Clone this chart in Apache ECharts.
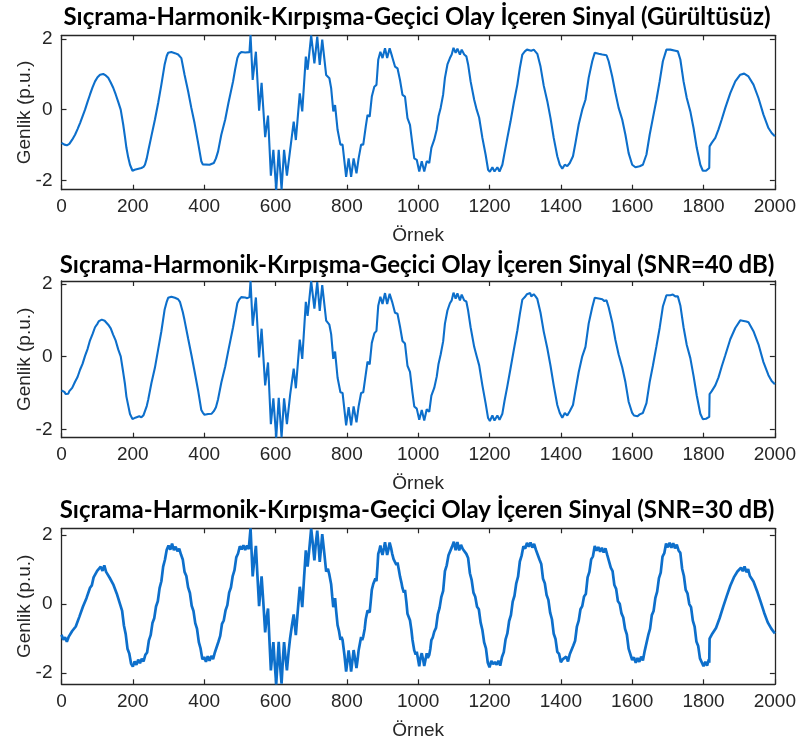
<!DOCTYPE html>
<html>
<head>
<meta charset="utf-8">
<script src="https://cdn.jsdelivr.net/npm/echarts@6/dist/echarts.min.js"></script>
<style>
html,body{margin:0;padding:0;background:#fff;}
#chart{width:799px;height:744px;}
</style>
</head>
<body>
<div id="chart"></div>
<script>
// ---- Data (sample index, amplitude p.u.) ----
const titles = [
  'Sıçrama-Harmonik-Kırpışma-Geçici Olay İçeren Sinyal (Gürültüsüz)',
  'Sıçrama-Harmonik-Kırpışma-Geçici Olay İçeren Sinyal (SNR=40 dB)',
  'Sıçrama-Harmonik-Kırpışma-Geçici Olay İçeren Sinyal (SNR=30 dB)'
];
const xTicks = [0,200,400,600,800,1000,1200,1400,1600,1800,2000];
const yTicks = [-2,0,2];
const xLabel = 'Örnek';
const yLabel = 'Genlik (p.u.)';
const yLimits = [[-2.266,2.105],[-2.231,2.083],[-2.32,2.19]];

const signalClean = [[0,-0.94],[8,-0.99],[15,-1.01],[22,-0.97],[30,-0.85],[38,-0.71],[45,-0.55],[52,-0.38],[59,-0.19],[66,0.0],[73,0.22],[80,0.43],[87,0.63],[94,0.80],[101,0.92],[108,0.99],[117,1.01],[124,0.97],[131,0.90],[138,0.77],[145,0.62],[152,0.43],[159,0.22],[166,0.0],[173,-0.42],[178,-0.78],[182,-1.08],[187,-1.35],[192,-1.56],[199,-1.73],[205,-1.70],[210,-1.67],[224,-1.65],[230,-1.62],[234,-1.56],[239,-1.38],[243,-1.18],[252,-0.75],[262,-0.28],[271,0.19],[280,0.71],[289,1.27],[295,1.52],[299,1.61],[308,1.63],[318,1.60],[327,1.56],[332,1.52],[336,1.46],[340,1.25],[345,0.99],[355,0.52],[364,0.05],[373,-0.38],[383,-0.94],[392,-1.46],[396,-1.55],[401,-1.58],[415,-1.56],[427,-1.51],[433,-1.38],[439,-1.18],[448,-0.71],[459,-0.28],[468,0.19],[481,0.80],[487,1.15],[493,1.46],[498,1.58],[504,1.63],[515,1.62],[527,1.63],[530,2.11],[536,0.84],[545,1.64],[554,-0.03],[561,0.76],[571,-0.78],[579,-0.17],[587,-1.87],[594,-1.14],[602,-2.27],[609,-1.14],[617,-2.26],[624,-1.14],[632,-1.87],[651,-0.34],[657,-0.86],[668,0.46],[675,-0.05],[685,1.50],[690,1.13],[700,2.10],[709,1.31],[717,2.07],[724,1.27],[731,1.98],[742,0.98],[751,0.89],[756,0.61],[762,-0.05],[767,0.13],[774,-0.57],[782,-0.99],[788,-0.99],[798,-1.90],[805,-1.38],[812,-1.90],[819,-1.38],[827,-1.80],[833,-1.38],[840,-0.99],[846,-0.99],[853,-0.48],[858,-0.15],[864,-0.20],[870,0.37],[877,0.65],[883,0.70],[888,1.41],[894,1.64],[900,1.46],[907,1.74],[913,1.46],[920,1.74],[927,1.50],[935,1.22],[942,1.17],[949,0.84],[956,0.42],[963,0.37],[970,-0.24],[977,-0.43],[984,-0.99],[989,-1.38],[996,-1.42],[1003,-1.75],[1010,-1.46],[1017,-1.75],[1024,-1.46],[1031,-1.51],[1037,-1.08],[1045,-0.85],[1052,-0.56],[1057,-0.19],[1063,0.05],[1070,0.43],[1075,0.90],[1082,1.28],[1089,1.46],[1094,1.56],[1099,1.75],[1105,1.61],[1110,1.73],[1117,1.56],[1122,1.70],[1129,1.56],[1135,1.51],[1140,1.28],[1147,0.80],[1157,0.28],[1164,0.0],[1171,-0.23],[1180,-0.80],[1189,-1.27],[1196,-1.70],[1201,-1.76],[1208,-1.63],[1214,-1.75],[1222,-1.63],[1228,-1.75],[1236,-1.56],[1242,-1.23],[1250,-0.80],[1259,-0.33],[1268,0.19],[1278,0.71],[1285,1.18],[1292,1.56],[1299,1.65],[1305,1.70],[1310,1.73],[1317,1.67],[1324,1.70],[1334,1.58],[1343,1.22],[1352,0.68],[1362,0.24],[1371,-0.24],[1380,-0.80],[1390,-1.32],[1397,-1.56],[1404,-1.67],[1411,-1.56],[1418,-1.60],[1425,-1.51],[1434,-1.32],[1441,-0.94],[1450,-0.42],[1460,0.0],[1469,0.28],[1478,0.90],[1488,1.37],[1495,1.61],[1506,1.58],[1516,1.56],[1528,1.54],[1534,1.37],[1544,0.94],[1553,0.47],[1562,0.05],[1572,-0.28],[1581,-0.71],[1590,-1.23],[1600,-1.56],[1609,-1.63],[1621,-1.60],[1630,-1.56],[1640,-1.27],[1649,-0.71],[1658,-0.24],[1668,0.28],[1677,0.80],[1686,1.37],[1696,1.70],[1707,1.70],[1721,1.67],[1728,1.65],[1735,1.42],[1744,0.80],[1753,0.33],[1763,-0.05],[1772,-0.52],[1781,-1.08],[1791,-1.56],[1798,-1.73],[1807,-1.73],[1816,-1.65],[1817,-1.04],[1823,-0.94],[1833,-0.80],[1842,-0.56],[1851,-0.28],[1861,0.05],[1875,0.47],[1889,0.80],[1903,0.99],[1914,1.02],[1926,0.94],[1940,0.71],[1954,0.33],[1968,-0.14],[1982,-0.52],[1991,-0.66],[2000,-0.75]];

const signal40dB = [[0,-0.93],[4,-0.96],[8,-0.97],[12,-1.03],[15,-1.00],[19,-1.02],[22,-0.95],[30,-0.86],[38,-0.69],[45,-0.56],[52,-0.36],[59,-0.20],[66,0.02],[73,0.21],[80,0.45],[87,0.62],[94,0.81],[101,0.91],[105,0.98],[108,0.97],[113,1.02],[117,1.00],[121,0.99],[124,0.98],[131,0.88],[138,0.78],[145,0.60],[152,0.44],[159,0.20],[166,0.01],[173,-0.43],[178,-0.76],[182,-1.10],[187,-1.34],[192,-1.58],[199,-1.72],[203,-1.75],[207,-1.68],[212,-1.70],[218,-1.64],[224,-1.67],[230,-1.61],[234,-1.57],[239,-1.36],[243,-1.19],[252,-0.73],[262,-0.30],[271,0.20],[280,0.70],[289,1.29],[295,1.51],[299,1.62],[304,1.60],[308,1.65],[313,1.61],[318,1.62],[323,1.57],[327,1.58],[332,1.51],[336,1.47],[340,1.23],[345,1.00],[355,0.50],[364,0.06],[373,-0.40],[383,-0.93],[392,-1.47],[396,-1.54],[401,-1.60],[406,-1.56],[411,-1.58],[415,-1.55],[421,-1.57],[427,-1.50],[433,-1.39],[439,-1.17],[448,-0.72],[459,-0.27],[468,0.18],[481,0.81],[487,1.14],[493,1.47],[498,1.57],[504,1.64],[509,1.60],[515,1.63],[521,1.61],[527,1.64],[530,2.08],[536,0.85],[545,1.63],[554,-0.02],[561,0.77],[571,-0.79],[579,-0.16],[587,-1.86],[594,-1.15],[602,-2.23],[609,-1.13],[617,-2.22],[624,-1.15],[632,-1.86],[641,-1.05],[651,-0.33],[657,-0.87],[668,0.47],[675,-0.06],[685,1.51],[690,1.12],[700,2.08],[709,1.32],[717,2.05],[724,1.26],[731,1.97],[742,0.99],[751,0.88],[756,0.62],[762,-0.06],[767,0.14],[774,-0.58],[782,-0.98],[788,-1.00],[798,-1.89],[805,-1.39],[812,-1.89],[819,-1.37],[827,-1.81],[833,-1.37],[840,-1.00],[846,-0.98],[853,-0.49],[858,-0.14],[864,-0.21],[870,0.38],[877,0.64],[883,0.71],[888,1.40],[894,1.65],[900,1.45],[907,1.75],[913,1.45],[920,1.73],[927,1.51],[935,1.21],[942,1.18],[949,0.83],[956,0.43],[963,0.36],[970,-0.25],[977,-0.42],[984,-1.00],[989,-1.37],[996,-1.43],[1003,-1.74],[1010,-1.47],[1017,-1.76],[1024,-1.45],[1031,-1.52],[1037,-1.07],[1045,-0.86],[1052,-0.55],[1057,-0.20],[1063,0.06],[1070,0.42],[1075,0.91],[1082,1.27],[1089,1.47],[1094,1.55],[1099,1.76],[1105,1.60],[1110,1.74],[1117,1.55],[1122,1.71],[1129,1.55],[1135,1.52],[1140,1.27],[1147,0.81],[1157,0.27],[1164,0.01],[1171,-0.24],[1180,-0.79],[1189,-1.28],[1196,-1.69],[1201,-1.77],[1208,-1.62],[1214,-1.76],[1222,-1.62],[1228,-1.74],[1236,-1.57],[1242,-1.22],[1250,-0.81],[1259,-0.32],[1268,0.18],[1278,0.72],[1285,1.17],[1292,1.57],[1299,1.64],[1305,1.72],[1310,1.71],[1314,1.75],[1317,1.66],[1324,1.72],[1329,1.66],[1334,1.59],[1343,1.21],[1352,0.69],[1362,0.23],[1371,-0.25],[1380,-0.79],[1390,-1.33],[1397,-1.55],[1404,-1.68],[1411,-1.55],[1418,-1.62],[1425,-1.50],[1434,-1.33],[1441,-0.93],[1450,-0.43],[1460,0.01],[1469,0.27],[1478,0.91],[1488,1.36],[1495,1.62],[1500,1.58],[1506,1.60],[1511,1.55],[1516,1.58],[1522,1.53],[1528,1.55],[1534,1.36],[1544,0.95],[1553,0.46],[1562,0.06],[1572,-0.29],[1581,-0.70],[1590,-1.24],[1600,-1.55],[1605,-1.62],[1609,-1.61],[1615,-1.64],[1621,-1.59],[1626,-1.61],[1630,-1.55],[1640,-1.28],[1649,-0.70],[1658,-0.25],[1668,0.29],[1677,0.79],[1686,1.38],[1696,1.69],[1701,1.73],[1707,1.69],[1714,1.71],[1721,1.66],[1728,1.66],[1735,1.41],[1744,0.81],[1753,0.32],[1763,-0.04],[1772,-0.53],[1781,-1.07],[1791,-1.57],[1798,-1.72],[1803,-1.75],[1807,-1.71],[1812,-1.74],[1816,-1.66],[1817,-1.03],[1823,-0.95],[1833,-0.79],[1842,-0.57],[1851,-0.27],[1861,0.04],[1875,0.48],[1889,0.79],[1903,1.00],[1909,0.99],[1914,1.03],[1920,0.97],[1926,0.95],[1940,0.70],[1954,0.34],[1968,-0.15],[1982,-0.51],[1991,-0.67],[2000,-0.76]];

const signal30dB = [[0,-0.89],[5,-1.03],[10,-0.96],[15,-1.09],[20,-0.95],[25,-0.97],[30,-0.78],[35,-0.82],[40,-0.65],[45,-0.62],[50,-0.37],[55,-0.33],[60,-0.08],[65,-0.09],[70,0.17],[75,0.21],[80,0.47],[85,0.54],[90,0.77],[95,0.75],[100,0.96],[105,0.92],[110,1.08],[115,0.96],[120,1.12],[125,0.93],[130,0.97],[135,0.76],[140,0.77],[145,0.57],[150,0.54],[155,0.30],[160,0.26],[165,-0.03],[170,-0.20],[175,-0.62],[180,-0.87],[185,-1.29],[190,-1.43],[195,-1.72],[200,-1.81],[205,-1.66],[210,-1.76],[215,-1.61],[220,-1.71],[225,-1.58],[230,-1.66],[235,-1.47],[240,-1.40],[245,-1.05],[250,-0.90],[255,-0.55],[260,-0.41],[265,-0.07],[270,0.08],[275,0.46],[280,0.66],[285,1.08],[290,1.28],[295,1.57],[300,1.69],[305,1.57],[310,1.75],[315,1.56],[320,1.66],[325,1.53],[330,1.60],[335,1.43],[340,1.29],[345,0.93],[350,0.81],[355,0.48],[360,0.32],[365,-0.05],[370,-0.20],[375,-0.55],[380,-0.72],[385,-1.10],[390,-1.29],[395,-1.60],[400,-1.53],[405,-1.67],[410,-1.51],[415,-1.64],[420,-1.50],[425,-1.59],[430,-1.40],[435,-1.37],[440,-1.09],[445,-0.92],[450,-0.57],[455,-0.47],[460,-0.18],[465,-0.03],[470,0.33],[475,0.48],[480,0.81],[485,0.98],[490,1.35],[495,1.46],[500,1.67],[505,1.58],[510,1.70],[515,1.56],[520,1.69],[525,1.59],[530,2.19],[536,0.80],[540,1.22],[545,1.68],[549,0.88],[554,-0.06],[558,0.42],[561,0.80],[566,0.02],[571,-0.82],[575,-0.40],[579,-0.13],[583,-1.05],[587,-1.92],[591,-1.45],[594,-1.10],[598,-1.75],[602,-2.32],[606,-1.60],[609,-1.09],[613,-1.80],[617,-2.30],[621,-1.55],[624,-1.10],[628,-1.55],[632,-1.92],[637,-1.35],[641,-0.98],[646,-0.62],[651,-0.30],[654,-0.60],[657,-0.90],[662,-0.25],[668,0.50],[672,0.20],[675,-0.09],[680,0.75],[685,1.55],[688,1.25],[690,1.08],[695,1.62],[700,2.18],[705,1.70],[709,1.26],[713,1.75],[717,2.12],[721,1.65],[724,1.22],[728,1.65],[731,2.02],[737,1.45],[742,0.94],[747,1.02],[751,0.85],[756,0.57],[759,0.22],[762,-0.09],[767,0.17],[770,-0.20],[774,-0.61],[778,-0.78],[782,-1.03],[785,-0.95],[788,-1.04],[793,-1.45],[798,-1.95],[802,-1.62],[805,-1.34],[809,-1.65],[812,-1.95],[816,-1.60],[819,-1.33],[823,-1.58],[827,-1.85],[830,-1.62],[833,-1.34],[837,-1.12],[840,-0.95],[843,-1.04],[846,-0.94],[850,-0.72],[853,-0.44],[858,-0.19],[861,-0.14],[864,-0.24],[867,0.08],[870,0.41],[874,0.58],[877,0.62],[880,0.74],[883,0.66],[886,1.10],[888,1.45],[891,1.55],[894,1.69],[897,1.52],[900,1.42],[904,1.62],[907,1.79],[910,1.60],[913,1.42],[917,1.60],[920,1.78],[924,1.62],[927,1.46],[931,1.30],[935,1.26],[939,1.13],[942,1.20],[946,0.98],[949,0.80],[953,0.62],[956,0.46],[960,0.33],[963,0.41],[967,0.05],[970,-0.28],[974,-0.30],[977,-0.47],[981,-0.75],[984,-1.03],[987,-1.22],[989,-1.34],[993,-1.46],[996,-1.38],[1000,-1.62],[1003,-1.80],[1006,-1.58],[1010,-1.42],[1014,-1.62],[1017,-1.79],[1021,-1.58],[1024,-1.42],[1027,-1.56],[1031,-1.47],[1034,-1.30],[1037,-1.04],[1041,-0.96],[1045,-0.80],[1050,-0.69],[1055,-0.30],[1060,-0.11],[1065,0.21],[1070,0.38],[1075,0.95],[1080,1.12],[1085,1.41],[1090,1.43],[1095,1.66],[1100,1.80],[1105,1.56],[1110,1.79],[1115,1.55],[1120,1.71],[1125,1.59],[1130,1.61],[1135,1.45],[1140,1.33],[1145,0.89],[1150,0.69],[1155,0.33],[1160,0.21],[1165,-0.08],[1170,-0.15],[1175,-0.53],[1180,-0.75],[1185,-1.11],[1190,-1.28],[1195,-1.69],[1200,-1.83],[1205,-1.64],[1210,-1.74],[1215,-1.68],[1220,-1.75],[1225,-1.64],[1230,-1.78],[1235,-1.53],[1240,-1.39],[1245,-1.02],[1250,-0.85],[1255,-0.49],[1260,-0.32],[1265,0.07],[1270,0.24],[1275,0.60],[1280,0.79],[1285,1.23],[1290,1.40],[1295,1.67],[1300,1.60],[1305,1.77],[1310,1.66],[1315,1.78],[1320,1.63],[1325,1.74],[1330,1.57],[1335,1.58],[1340,1.29],[1345,1.16],[1350,0.73],[1355,0.60],[1360,0.26],[1365,0.12],[1370,-0.25],[1375,-0.44],[1380,-0.86],[1385,-1.01],[1390,-1.38],[1395,-1.44],[1400,-1.68],[1405,-1.60],[1410,-1.64],[1415,-1.52],[1420,-1.66],[1425,-1.45],[1430,-1.46],[1435,-1.20],[1440,-1.06],[1445,-0.65],[1450,-0.48],[1455,-0.15],[1460,-0.06],[1465,0.22],[1470,0.29],[1475,0.77],[1480,0.93],[1485,1.29],[1490,1.38],[1495,1.68],[1500,1.54],[1505,1.65],[1510,1.51],[1515,1.63],[1520,1.49],[1525,1.61],[1530,1.42],[1535,1.39],[1540,1.05],[1545,0.95],[1550,0.55],[1555,0.44],[1560,0.08],[1565,0.01],[1570,-0.27],[1575,-0.39],[1580,-0.72],[1585,-0.88],[1590,-1.29],[1595,-1.34],[1600,-1.62],[1605,-1.54],[1610,-1.70],[1615,-1.56],[1620,-1.67],[1625,-1.52],[1630,-1.63],[1635,-1.36],[1640,-1.33],[1645,-0.90],[1650,-0.72],[1655,-0.32],[1660,-0.20],[1665,0.18],[1670,0.36],[1675,0.75],[1680,0.91],[1685,1.37],[1690,1.47],[1695,1.75],[1700,1.64],[1705,1.77],[1710,1.63],[1715,1.76],[1720,1.61],[1725,1.72],[1730,1.55],[1735,1.48],[1740,1.02],[1745,0.81],[1750,0.41],[1755,0.31],[1760,0.00],[1765,-0.09],[1770,-0.48],[1775,-0.65],[1780,-1.08],[1785,-1.21],[1790,-1.57],[1795,-1.60],[1800,-1.80],[1805,-1.67],[1810,-1.78],[1815,-1.60],[1816,-1.70],[1817,-1.00],[1820,-1.05],[1825,-0.85],[1830,-0.90],[1835,-0.69],[1840,-0.67],[1845,-0.41],[1850,-0.37],[1855,-0.08],[1860,-0.04],[1865,0.23],[1870,0.26],[1875,0.53],[1880,0.53],[1885,0.77],[1890,0.75],[1895,0.94],[1900,0.89],[1905,1.05],[1910,0.95],[1915,1.09],[1920,0.92],[1925,1.01],[1930,0.81],[1935,0.85],[1940,0.65],[1945,0.64],[1950,0.38],[1955,0.36],[1960,0.07],[1965,0.02],[1970,-0.25],[1975,-0.27],[1980,-0.53],[1985,-0.51],[1990,-0.71],[1995,-0.68],[2000,-0.85]];

const seriesData = [signalClean, signal40dB, signal30dB];

// ---- Layout / style ----
const AX = '#262626';
const LINE = '#0D6FCB';
const lineWidths = [2.1, 2.1, 2.7];
const plotLeft = 61.5, plotRight = 22.5;
const gridTops = [35.3, 281, 528.3];
const gridHeights = [154.4, 156.7, 156];
const titleY = [17, 265, 510];
const tickFont = '"Liberation Sans", Arial, sans-serif';

// fit title font to measured title width
const titleFont = 'Lato, "Open Sans", sans-serif';
const cv = document.createElement('canvas').getContext('2d');
cv.font = 'bold 22px ' + titleFont;
const tw = cv.measureText(titles[0]).width;
const titleSize = 22 * 707 / tw;

const grids = [], xAxes = [], yAxes = [], series = [], graphics = [];
for (let i = 0; i < 3; i++) {
  grids.push({left: plotLeft, right: plotRight, top: gridTops[i], height: gridHeights[i], containLabel: false});
  const xBase = {
    gridIndex: i, type: 'value', min: xTicks[0], max: xTicks[xTicks.length-1], interval: 200,
    axisLine: {show: true, onZero: false, lineStyle: {color: AX, width: 1.3}},
    axisTick: {show: true, inside: true, length: 5, lineStyle: {color: AX, width: 1.2}},
    splitLine: {show: false}
  };
  xAxes.push(Object.assign({}, xBase, {
    position: 'bottom',
    axisLabel: {show: true, color: AX, fontSize: 19, fontFamily: tickFont, margin: 8,
                formatter: function (v) { return String(v); }},
    name: xLabel, nameLocation: 'middle', nameGap: 37, nameMoveOverlap: false,
    nameTextStyle: {color: AX, fontSize: 19, fontFamily: tickFont}
  }));
  xAxes.push(Object.assign({}, xBase, {position: 'top', axisLabel: {show: false}}));
  const yBase = {
    gridIndex: i, type: 'value', min: yLimits[i][0], max: yLimits[i][1],
    axisLine: {show: true, onZero: false, lineStyle: {color: AX, width: 1.3}},
    axisTick: {show: true, inside: true, length: 5, customValues: yTicks, lineStyle: {color: AX, width: 1.2}},
    splitLine: {show: false}
  };
  yAxes.push(Object.assign({}, yBase, {
    position: 'left',
    axisLabel: {show: true, color: AX, fontSize: 19, fontFamily: tickFont, margin: 9, customValues: yTicks},
    name: yLabel, nameLocation: 'middle', nameGap: 27, nameRotate: 90, nameMoveOverlap: false,
    nameTextStyle: {color: AX, fontSize: 19, fontFamily: tickFont}
  }));
  yAxes.push(Object.assign({}, yBase, {position: 'right', axisLabel: {show: false}}));
  series.push({
    type: 'line', xAxisIndex: 2*i, yAxisIndex: 2*i, data: seriesData[i],
    showSymbol: false, symbol: 'none', smooth: false, animation: false,
    lineStyle: {color: LINE, width: lineWidths[i]}
  });
  graphics.push({
    type: 'text', x: 417, y: titleY[i],
    style: {text: titles[i], fill: '#000', font: 'bold ' + titleSize.toFixed(2) + 'px ' + titleFont,
            textAlign: 'center', textVerticalAlign: 'middle'}
  });
}

const chart = echarts.init(document.getElementById('chart'), null, {renderer: 'canvas'});
chart.setOption({
  animation: false,
  backgroundColor: '#fff',
  grid: grids, xAxis: xAxes, yAxis: yAxes, series: series, graphic: graphics
});
</script>
</body>
</html>
